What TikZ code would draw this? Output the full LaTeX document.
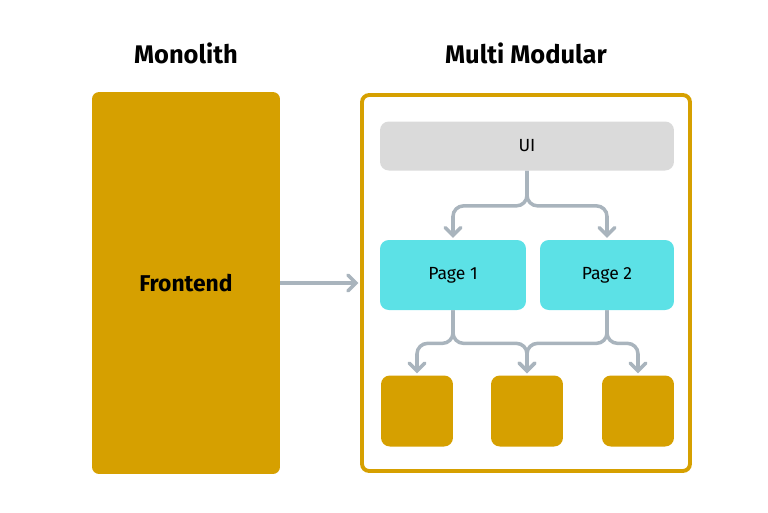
\documentclass[tikz,border=0pt]{standalone}
\usepackage{fontspec}
\setmainfont{Fira Sans}
\usetikzlibrary{arrows.meta}

\definecolor{gold}{RGB}{214,160,0}
\definecolor{pagecyan}{RGB}{92,225,230}
\definecolor{uigray}{RGB}{218,218,218}
\definecolor{wire}{RGB}{169,180,189}
\tikzset{
  heading/.style={font=\bfseries\fontsize{14.5}{17}\selectfont},
  frontend/.style={rectangle,rounded corners=4pt,fill=gold,minimum width=3.76cm,minimum height=7.64cm,font=\bfseries\fontsize{13}{15}\selectfont},
  frame/.style={rectangle,rounded corners=4pt,draw=gold,line width=2.2pt,minimum width=6.56cm,minimum height=7.52cm},
  uibox/.style={rectangle,rounded corners=5pt,fill=uigray,minimum width=5.88cm,minimum height=0.98cm,font=\fontsize{10}{12}\selectfont},
  page/.style={rectangle,rounded corners=5pt,fill=pagecyan,minimum height=1.4cm,font=\fontsize{10}{12}\selectfont},
  module/.style={rectangle,rounded corners=5pt,fill=gold,minimum width=1.44cm,minimum height=1.42cm},
  wire/.style={draw=wire,line width=2pt,rounded corners=6pt,-{Straight Barb[length=4.5pt,width=9pt,line cap=round]},shorten >=1pt},
}

\begin{document}
\begin{tikzpicture}[x=0.02cm,y=-0.02cm]
      \useasboundingbox (0,0) rectangle (768,512);
      \node [heading] at (186,53) (monotitle) {Monolith};
      \node [heading] at (526,53) (multititle) {Multi Modular};
      \node [frontend] at (186,283) (front) {Frontend};
      \node [frame] at (526,283) (frame) {};
      \node [uibox] at (527,146) (ui) {UI};
      \node [page,minimum width=2.92cm] at (453,275) (p1) {Page 1};
      \node [page,minimum width=2.68cm] at (607,275) (p2) {Page 2};
      \foreach \x [count=\i] in {417,527,638}
      {
        \node [module] at (\x,411) (m\i) {};
      }
      \draw [wire] (front.east) -- (frame.west);
      \draw [wire] (ui.south) -- ++(0,35) -| (p1.north);
      \draw [wire] (ui.south) -- ++(0,35) -| (p2.north);
      \draw [wire] (p1.south) -- ++(0,33) -| (m1.north);
      \draw [wire] (p1.south) -- ++(0,33) -| (m2.north);
      \draw [wire] (p2.south) -- ++(0,33) -| (m2.north);
      \draw [wire] (p2.south) -- ++(0,33) -| (m3.north);
    \end{tikzpicture}
\end{document}
